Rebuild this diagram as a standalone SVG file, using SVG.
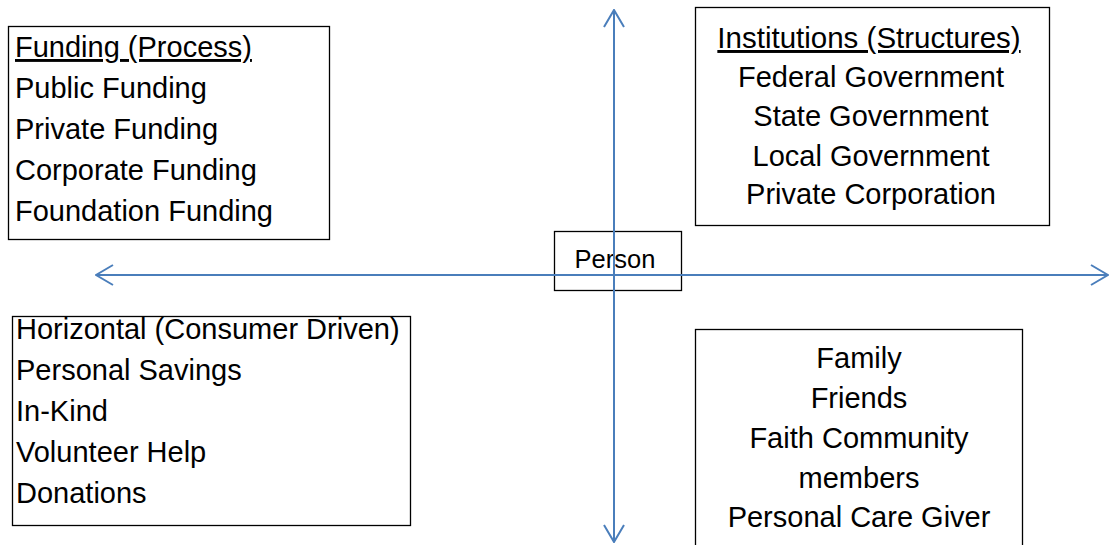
<svg xmlns="http://www.w3.org/2000/svg" width="1111" height="545" viewBox="0 0 1111 545">
<style>
.box{fill:#fff;stroke:#000;stroke-width:1.3}
.t{font-family:"Liberation Sans",Arial,sans-serif;font-size:29px;fill:#000}
.c{text-anchor:middle}
.u{text-decoration:underline}
.ax{stroke:#4A7EBB;stroke-width:2;fill:none}
</style>
<defs>
<marker id="open" viewBox="0 0 20 24" refX="19" refY="12" markerWidth="20" markerHeight="24" markerUnits="userSpaceOnUse" orient="auto-start-reverse">
<path d="M2,2 L19,12 L2,22" fill="none" stroke="#4A7EBB" stroke-width="2"/>
</marker>
</defs>
<g id="funding">
<rect class="box" x="8.5" y="26.5" width="321" height="213"/>
<text class="t u" x="15" y="57">Funding (Process)</text>
<text class="t" x="15" y="98">Public Funding</text>
<text class="t" x="15" y="139">Private Funding</text>
<text class="t" x="15" y="180">Corporate Funding</text>
<text class="t" x="15" y="221">Foundation Funding</text>
</g>
<g id="institutions">
<rect class="box" x="695.5" y="7.5" width="354" height="218"/>
<text class="t c u" x="869" y="48" style="font-size:29.5px">Institutions (Structures)</text>
<text class="t c" x="871" y="87">Federal Government</text>
<text class="t c" x="871" y="126">State Government</text>
<text class="t c" x="871" y="166">Local Government</text>
<text class="t c" x="871" y="204">Private Corporation</text>
</g>
<g id="horizontal">
<rect class="box" x="12.5" y="316.5" width="398" height="209"/>
<text class="t" x="16" y="339">Horizontal (Consumer Driven)</text>
<text class="t" x="16" y="380">Personal Savings</text>
<text class="t" x="16" y="421">In-Kind</text>
<text class="t" x="16" y="462">Volunteer Help</text>
<text class="t" x="16" y="503">Donations</text>
</g>
<g id="informal">
<rect class="box" x="695.5" y="329.5" width="327" height="230"/>
<text class="t c" x="859" y="368">Family</text>
<text class="t c" x="859" y="408">Friends</text>
<text class="t c" x="859" y="448">Faith Community</text>
<text class="t c" x="859" y="488">members</text>
<text class="t c" x="859" y="527">Personal Care Giver</text>
</g>
<g id="person">
<rect class="box" x="554.5" y="231.5" width="127" height="59"/>
<text class="t c" x="615" y="268" style="font-size:25.5px">Person</text>
</g>
<g id="connectors">
<line class="ax" x1="96" y1="275" x2="1108" y2="275" marker-start="url(#open)" marker-end="url(#open)"/>
<line class="ax" x1="614" y1="10" x2="614" y2="542" marker-start="url(#open)" marker-end="url(#open)"/>
</g>
</svg>
